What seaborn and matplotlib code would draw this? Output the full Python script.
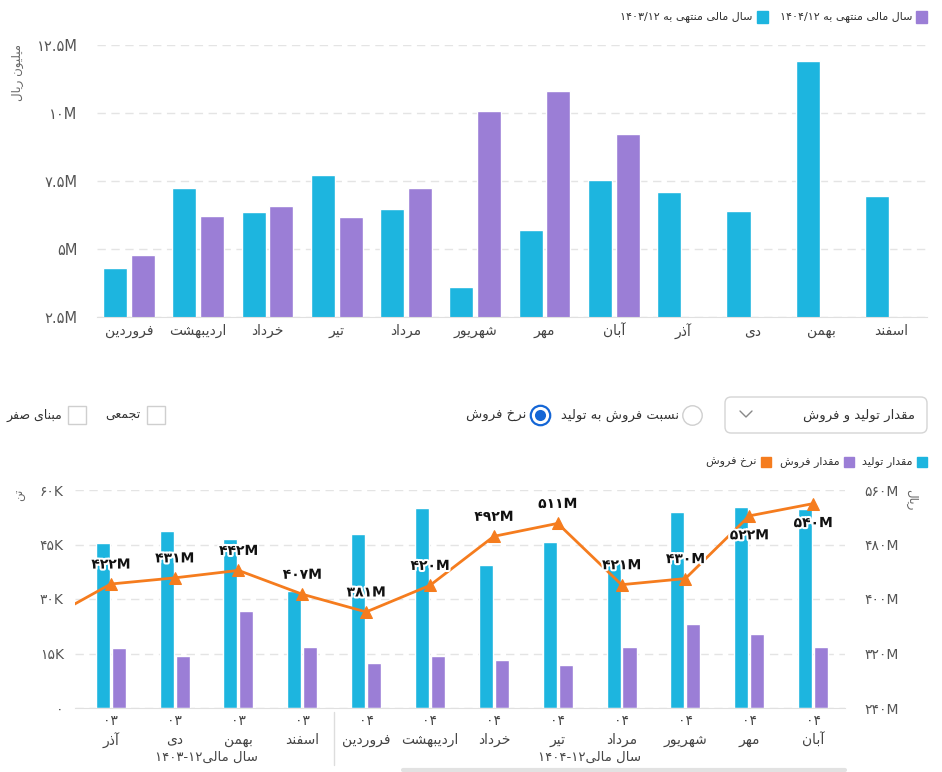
import re
import numpy as np
import pandas as pd
import matplotlib
matplotlib.use("Agg")
import matplotlib.pyplot as plt
import seaborn as sns
from matplotlib.lines import Line2D
from matplotlib.patches import FancyBboxPatch, Rectangle
import matplotlib.patheffects as pe
from matplotlib.ticker import FuncFormatter
from matplotlib.transforms import blended_transform_factory

# ---------------- data ----------------
months_top = ["فروردین", "اردیبهشت", "خرداد", "تیر", "مرداد", "شهریور",
              "مهر", "آبان", "آذر", "دی", "بهمن", "اسفند"]
series_top = ["سال مالی منتهی به ۱۴۰۳/۱۲", "سال مالی منتهی به ۱۴۰۴/۱۲"]
fy1403 = [4.30, 7.24, 6.36, 7.72, 6.47, 3.60, 5.70, 7.54, 7.10, 6.40, 11.91, 6.95]
fy1404 = [4.78, 6.21, 6.58, 6.18, 7.24, 10.07, 10.81, 9.23,
          np.nan, np.nan, np.nan, np.nan]
top_ticks = [2.5, 5, 7.5, 10, 12.5]

months_bottom = ["آبان", "آذر", "دی", "بهمن", "اسفند", "فروردین", "اردیبهشت",
                 "خرداد", "تیر", "مرداد", "شهریور", "مهر", "آبان"]
years_bottom = ["03", "03", "03", "03", "03", "04", "04", "04", "04", "04", "04", "04", "04"]
series_bottom = ["مقدار تولید", "مقدار فروش", "نرخ فروش"]
production_k = [np.nan, 45.4, 48.7, 46.5, 32.2, 47.9, 55.0, 39.4, 45.7, 41.3, 53.9, 55.3, 54.8]
sales_k = [np.nan, 16.5, 14.3, 26.7, 16.8, 12.4, 14.3, 13.2, 11.8, 16.8, 23.1, 20.4, 16.8]
price_m = [370, 422, 431, 442, 407, 381, 420, 492, 511, 421, 430, 522, 540]
left_ticks = [0, 15, 30, 45, 60]
right_ticks = [240, 320, 400, 480, 560]
group_labels = ["سال مالی۱۴۰۳-۱۲", "سال مالی۱۴۰۴-۱۲"]

ctrl_dropdown = "مقدار تولید و فروش"
ctrl_radio = ["نسبت فروش به تولید", "نرخ فروش"]
ctrl_check = ["تجمعی", "مبنای صفر"]

CYAN = "#1DB5DF"
PURPLE = "#9B7ED6"
ORANGE = "#F57C1E"
GRID = "#E4E4E4"
TXT = "#555555"

# ---------------- Persian shaping ----------------
_F = {
    'ا': ('\uFE8D', '\uFE8E', None, None),
    'آ': ('\uFE81', '\uFE82', None, None),
    'ب': ('\uFE8F', '\uFE90', '\uFE91', '\uFE92'),
    'ت': ('\uFE95', '\uFE96', '\uFE97', '\uFE98'),
    'ج': ('\uFE9D', '\uFE9E', '\uFE9F', '\uFEA0'),
    'خ': ('\uFEA5', '\uFEA6', '\uFEA7', '\uFEA8'),
    'د': ('\uFEA9', '\uFEAA', None, None),
    'ذ': ('\uFEAB', '\uFEAC', None, None),
    'ر': ('\uFEAD', '\uFEAE', None, None),
    'ز': ('\uFEAF', '\uFEB0', None, None),
    'س': ('\uFEB1', '\uFEB2', '\uFEB3', '\uFEB4'),
    'ش': ('\uFEB5', '\uFEB6', '\uFEB7', '\uFEB8'),
    'ص': ('\uFEB9', '\uFEBA', '\uFEBB', '\uFEBC'),
    'ع': ('\uFEC9', '\uFECA', '\uFECB', '\uFECC'),
    'ف': ('\uFED1', '\uFED2', '\uFED3', '\uFED4'),
    'ق': ('\uFED5', '\uFED6', '\uFED7', '\uFED8'),
    'ل': ('\uFEDD', '\uFEDE', '\uFEDF', '\uFEE0'),
    'م': ('\uFEE1', '\uFEE2', '\uFEE3', '\uFEE4'),
    'ن': ('\uFEE5', '\uFEE6', '\uFEE7', '\uFEE8'),
    'ه': ('\uFEE9', '\uFEEA', '\uFEEB', '\uFEEC'),
    'و': ('\uFEED', '\uFEEE', None, None),
    'ی': ('\uFEEF', '\uFEF0', '\uFEF3', '\uFEF4'),
    'ي': ('\uFEEF', '\uFEF0', '\uFEF3', '\uFEF4'),
}


def _shape(s):
    out = []
    n = len(s)
    for i, c in enumerate(s):
        if c not in _F:
            out.append(c)
            continue
        iso, fin, ini, med = _F[c]
        prev = s[i - 1] if i > 0 else ''
        nxt = s[i + 1] if i + 1 < n else ''
        jp = prev in _F and _F[prev][2] is not None
        jn = ini is not None and nxt in _F
        if jp and jn:
            out.append(med)
        elif jp:
            out.append(fin)
        elif jn:
            out.append(ini)
        else:
            out.append(iso)
    return ''.join(out)


_LTR = re.compile(r'[0-9\u06F0-\u06F9A-Za-z](?:[0-9\u06F0-\u06F9A-Za-z./\-]*[0-9\u06F0-\u06F9A-Za-z])?')
_DIG = str.maketrans("0123456789", "۰۱۲۳۴۵۶۷۸۹")


def rtl(s):
    v = _shape(s)[::-1]
    return _LTR.sub(lambda m: m.group(0)[::-1], v)


def fnum(s):
    return s.translate(_DIG)


# ---------------- figure ----------------
sns.set_style("white")
plt.rcParams['font.family'] = ['DejaVu Sans']

W, H = 942, 772
fig = plt.figure(figsize=(W / 100, H / 100), dpi=100)
renderer = fig.canvas.get_renderer()


def fx(x):
    return x / W


def fy(y):
    return 1 - y / H


def rtl_legend(items, right, yc, sq, text_gap, item_gap, fontsize):
    """Lay out legend items right-to-left: square on the right of each label."""
    x = right
    for col, lab in items:
        fig.patches.append(Rectangle((fx(x - sq), fy(yc + sq / 2)), sq / W, sq / H, color=col,
                                     transform=fig.transFigure, figure=fig))
        t = fig.text(fx(x - sq - text_gap), fy(yc), rtl(lab), ha="right", va="center",
                     fontsize=fontsize, color="#333")
        w = t.get_window_extent(renderer).width
        x = x - sq - text_gap - w - item_gap


# ---------- top chart ----------
ax1 = fig.add_axes([fx(97), fy(317), 830 / W, 272 / H])
df_top = pd.DataFrame({
    "pos": list(range(len(months_top))) * 2,
    "series": [series_top[0]] * len(months_top) + [series_top[1]] * len(months_top),
    "value": fy1403 + fy1404,
})
sns.barplot(data=df_top, x="pos", y="value", hue="series", hue_order=series_top,
            palette=[CYAN, PURPLE], width=0.8, gap=0.13, errorbar=None,
            saturation=1, native_scale=True, legend=False, ax=ax1)
ax1.set_xlim(-0.46, 11.52)
ax1.set_ylim(2.5, 12.5)
ax1.set_yticks(top_ticks)
ax1.yaxis.set_major_formatter(FuncFormatter(lambda v, p: fnum(f"{v:g}M")))
ax1.set_xticks(range(len(months_top)))
ax1.set_xticklabels([rtl(m) for m in months_top])
ax1.set_xlabel("")
ax1.set_ylabel("")
ax1.grid(axis="y", color=GRID, linestyle=(0, (6, 4)), linewidth=1)
ax1.set_axisbelow(True)
for s in ["top", "right", "left"]:
    ax1.spines[s].set_visible(False)
ax1.spines["bottom"].set_color("#E0E0E0")
ax1.tick_params(axis="y", length=0, pad=14, labelsize=10.5, labelcolor=TXT)
ax1.tick_params(axis="x", length=0, pad=5, labelsize=10, labelcolor="#444")

fig.text(fx(18), fy(44), rtl("میلیون ریال"), rotation=90, ha="center", va="top",
         fontsize=8.5, color="#666")

# top legend
rtl_legend([(PURPLE, series_top[1]), (CYAN, series_top[0])], right=927, yc=17,
           sq=11, text_gap=4, item_gap=12, fontsize=8)

# ---------- controls ----------
box = FancyBboxPatch((fx(725), fy(433)), 202 / W, 36 / H,
                     boxstyle="round,pad=0,rounding_size=0.0065", mutation_aspect=W / H,
                     transform=fig.transFigure, facecolor="white", edgecolor="#D5D5D5",
                     linewidth=1, figure=fig)
fig.patches.append(box)
fig.text(fx(915), fy(415), rtl(ctrl_dropdown), ha="right", va="center", fontsize=9.5, color="#333")
fig.add_artist(Line2D([fx(740), fx(746), fx(752)], [fy(411), fy(417), fy(411)],
                      color="#888888", linewidth=1, transform=fig.transFigure))

# radio buttons
fig.add_artist(Line2D([fx(692)], [fy(415)], marker="o", markersize=14, mfc="white",
                      mec="#CFCFCF", mew=1, transform=fig.transFigure))
fig.text(fx(679), fy(415), rtl(ctrl_radio[0]), ha="right", va="center", fontsize=9.5, color="#333")
fig.add_artist(Line2D([fx(540)], [fy(415)], marker="o", markersize=14, mfc="white",
                      mec="#1466D6", mew=1.6, transform=fig.transFigure))
fig.add_artist(Line2D([fx(540)], [fy(415)], marker="o", markersize=8, mfc="#1466D6",
                      mec="#1466D6", mew=0, transform=fig.transFigure))
fig.text(fx(526), fy(415), rtl(ctrl_radio[1]), ha="right", va="center", fontsize=9.5, color="#333")

# checkboxes
for cx, tx, lab in [(156, 141, ctrl_check[0]), (77, 62, ctrl_check[1])]:
    fig.add_artist(Line2D([fx(cx)], [fy(415)], marker="s", markersize=13.5, mfc="white",
                          mec="#CFCFCF", mew=1, transform=fig.transFigure))
    fig.text(fx(tx), fy(415), rtl(lab), ha="right", va="center", fontsize=9, color="#333")

# bottom legend
rtl_legend([(CYAN, series_bottom[0]), (PURPLE, series_bottom[1]), (ORANGE, series_bottom[2])],
           right=927, yc=462, sq=10, text_gap=4, item_gap=9, fontsize=8)

# ---------- bottom chart ----------
ax2 = fig.add_axes([fx(75), fy(708), 770 / W, 218 / H])
n_b = len(months_bottom)
df_bot = pd.DataFrame({
    "pos": list(range(n_b)) * 2,
    "series": [series_bottom[0]] * n_b + [series_bottom[1]] * n_b,
    "value": production_k + sales_k,
})
sns.barplot(data=df_bot, x="pos", y="value", hue="series", hue_order=series_bottom[:2],
            palette=[CYAN, PURPLE], width=0.5, gap=0.12, errorbar=None,
            saturation=1, native_scale=True, legend=False, ax=ax2)
ax2.set_ylim(0, 60)
ax2.set_yticks(left_ticks)
ax2.yaxis.set_major_formatter(FuncFormatter(lambda v, p: fnum("0") if v == 0 else fnum(f"{v:g}K")))
ax2.set_xticks(range(n_b))
ax2.set_xticklabels([fnum(y) + "\n" + rtl(m) for y, m in zip(years_bottom, months_bottom)],
                    linespacing=1.45)
ax2.set_xlabel("")
ax2.set_ylabel("")
ax2.grid(axis="y", color=GRID, linestyle=(0, (6, 4)), linewidth=1)
ax2.set_axisbelow(True)
for s in ["top", "right", "left"]:
    ax2.spines[s].set_visible(False)
ax2.spines["bottom"].set_color("#E0E0E0")
ax2.tick_params(axis="y", length=0, pad=8, labelsize=10, labelcolor=TXT)
ax2.tick_params(axis="x", length=0, pad=4, labelsize=10, labelcolor="#444")

ax2r = ax2.twinx()
sns.lineplot(x=np.arange(n_b), y=price_m, ax=ax2r, color=ORANGE, linewidth=2,
             marker="^", markersize=8, markeredgecolor=ORANGE)
ax2r.set_ylim(240, 560)
ax2r.set_yticks(right_ticks)
ax2r.yaxis.set_major_formatter(FuncFormatter(lambda v, p: fnum(f"{v:g}M")))
for s in ["top", "right", "left", "bottom"]:
    ax2r.spines[s].set_visible(False)
ax2r.tick_params(axis="y", length=0, pad=14, labelsize=10, labelcolor=TXT)
ax2r.set_ylabel("")
ax2.set_xlim(0.44, 12.5)

for i, v in enumerate(price_m):
    off = -14 if v >= 520 else 14
    ax2r.annotate(fnum(f"{v}M"), xy=(i, v), xytext=(0, off), textcoords="offset points",
                  ha="center", va="center", fontsize=10, fontweight="bold", color="#111",
                  path_effects=[pe.withStroke(linewidth=3, foreground="white")])

fig.text(fx(20), fy(489), rtl("تن"), rotation=90, ha="center", va="top", fontsize=8.5, color="#666")
fig.text(fx(912), fy(489), rtl("ریال"), rotation=270, ha="center", va="top", fontsize=8.5, color="#666")

# group captions and separator
tr = blended_transform_factory(ax2.transData, ax2.transAxes)
grp_years = ["03", "04"]
for g, lab in zip(grp_years, group_labels):
    idx = [i for i, y in enumerate(years_bottom) if y == g and 0.44 <= i <= 12.5]
    ax2.text((min(idx) + max(idx)) / 2, -0.225, rtl(lab), transform=tr, ha="center",
             va="center", fontsize=9.5, color="#444")
split = max(i for i, y in enumerate(years_bottom) if y == "03") + 0.5
ax2.plot([split, split], [-0.02, -0.26], transform=tr, color="#DDDDDD", linewidth=1, clip_on=False)

# scroll bar
fig.add_artist(Line2D([fx(403), fx(845)], [fy(770), fy(770)], color="#E2E2E2", linewidth=3,
                      transform=fig.transFigure))

fig.savefig("out.png", dpi=100)
